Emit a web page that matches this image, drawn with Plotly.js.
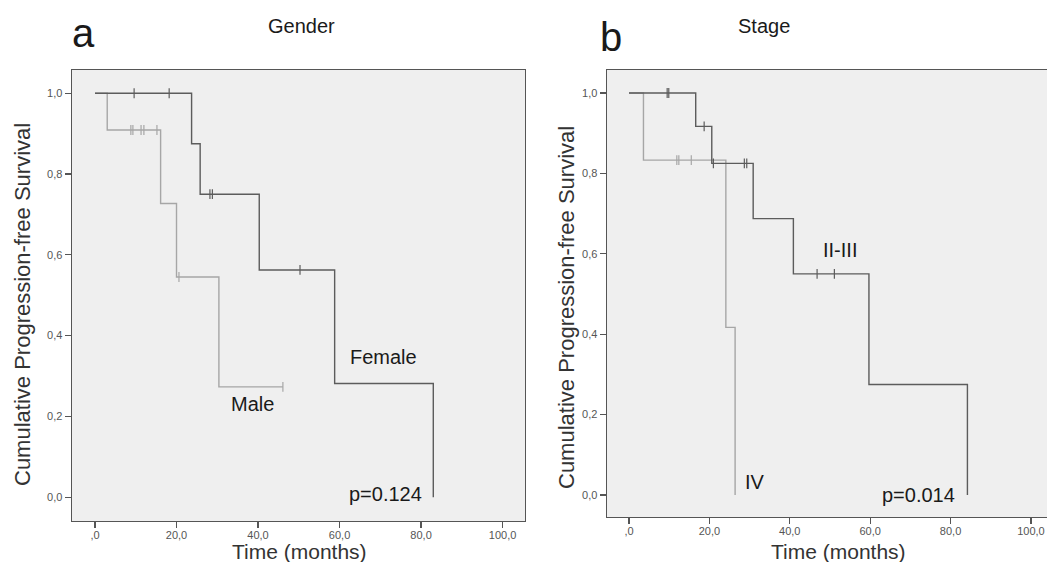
<!DOCTYPE html>
<html>
<head>
<meta charset="utf-8">
<script src="https://cdn.plot.ly/plotly-3.0.1.min.js"></script>
<style>
  html, body { margin: 0; padding: 0; background: #ffffff; }
  #chart { width: 1047px; height: 562px; }
</style>
</head>
<body>
<div id="chart"></div>
<script>
// ---- Data (Kaplan-Meier steps) ----
// Panel a: Gender
const femaleTimes = [0, 23.7, 25.8, 40.3, 58.8, 83.0];
const femaleSurv  = [1, 0.875, 0.75, 0.5625, 0.2813, 0];
const femaleCensored = [9.6, 18.2, 28.2, 28.8, 50.3];

const maleTimes = [0, 3.0, 16.1, 20.0, 30.4, 46.1];
const maleSurv  = [1, 0.909, 0.727, 0.545, 0.273, 0.273];
const maleCensored = [8.8, 9.3, 11.3, 12.0, 15.2, 20.6, 46.1];

// Panel b: Stage
const stage23Times = [0, 16.6, 20.6, 30.9, 40.9, 59.7, 84.2];
const stage23Surv  = [1, 0.917, 0.825, 0.6875, 0.55, 0.275, 0];
const stage23Censored = [9.5, 9.9, 18.7, 21.0, 28.7, 29.3, 46.8, 51.1];

const stage4Times = [0, 3.6, 24.1, 26.4];
const stage4Surv  = [1, 0.833, 0.417, 0];
const stage4Censored = [11.9, 12.4, 15.5];

const xTickVals = [0, 20, 40, 60, 80, 100];
const xTickText = [",0", "20,0", "40,0", "60,0", "80,0", "100,0"];
const yTickVals = [0, 0.2, 0.4, 0.6, 0.8, 1.0];
const yTickText = ["0,0", "0,2", "0,4", "0,6", "0,8", "1,0"];

// ---- helpers ----
function survAt(times, surv, t) {
  let s = surv[0];
  for (let i = 0; i < times.length; i++) { if (times[i] <= t) s = surv[i]; }
  return s;
}
const DARK = '#5c5c5c', LIGHT = '#a6a6a6';
function curve(times, surv, color, xa, ya) {
  return { x: times, y: surv, type: 'scatter', mode: 'lines', line: { shape: 'hv', color: color, width: 1.4 },
           xaxis: xa, yaxis: ya, hoverinfo: 'skip', showlegend: false };
}
function censors(times, surv, cens, color, xa, ya) {
  return { x: cens, y: cens.map(t => survAt(times, surv, t)), type: 'scatter', mode: 'markers',
           marker: { symbol: 'line-ns-open', size: 7, color: color, line: { color: color, width: 1.2 } },
           xaxis: xa, yaxis: ya, hoverinfo: 'skip', showlegend: false };
}

const W = 1047, H = 562;
const px = v => v / W, py = v => 1 - v / H;

const traces = [
  curve(maleTimes, maleSurv, LIGHT, 'x', 'y'),
  curve(femaleTimes, femaleSurv, DARK, 'x', 'y'),
  censors(maleTimes, maleSurv, maleCensored, LIGHT, 'x', 'y'),
  censors(femaleTimes, femaleSurv, femaleCensored, DARK, 'x', 'y'),
  curve(stage4Times, stage4Surv, LIGHT, 'x2', 'y2'),
  curve(stage23Times, stage23Surv, DARK, 'x2', 'y2'),
  censors(stage4Times, stage4Surv, stage4Censored, LIGHT, 'x2', 'y2'),
  censors(stage23Times, stage23Surv, stage23Censored, DARK, 'x2', 'y2')
];

const tickFont = { family: 'Liberation Sans, Arial, sans-serif', size: 11, color: '#555' };
function xAxis(domain, range, anchor, mirror) {
  return { domain: domain, range: range, anchor: anchor, tickvals: xTickVals, ticktext: xTickText,
           ticks: 'outside', ticklen: 6, tickwidth: 1.2, tickcolor: '#555', tickfont: tickFont,
           ticklabelstandoff: -3,
           showgrid: false, zeroline: false, showline: true, linecolor: '#555', linewidth: 1.4,
           mirror: mirror, fixedrange: true };
}
function yAxis(domain, range, anchor, mirror) {
  return { domain: domain, range: range, anchor: anchor, tickvals: yTickVals, ticktext: yTickText,
           ticks: 'outside', ticklen: 6, tickwidth: 1.2, tickcolor: '#555', tickfont: tickFont,
           showgrid: false, zeroline: false, showline: true, linecolor: '#555', linewidth: 1.4,
           mirror: mirror, fixedrange: true };
}

const F = 'Liberation Sans, Arial, sans-serif';
function ann(text, x, y, size, extra) {
  return Object.assign({ text: text, xref: 'paper', yref: 'paper', x: px(x), y: py(y), showarrow: false,
           xanchor: 'center', yanchor: 'middle', font: { family: F, size: size, color: '#1a1a1a' } }, extra || {});
}

const layout = {
  width: W, height: H,
  margin: { l: 0, r: 0, t: 0, b: 0 },
  paper_bgcolor: '#ffffff',
  plot_bgcolor: '#efefef',
  showlegend: false,
  xaxis: xAxis([px(72), px(525)], [-5.64, 105.5], 'y', true),
  yaxis: yAxis([py(521), py(70)], [-0.059, 1.0575], 'x', true),
  xaxis2: xAxis([px(607), 1], [-5.47, 104.0], 'y2', true),
  yaxis2: yAxis([py(517), py(70)], [-0.0547, 1.0572], 'x2', false),
  annotations: [
    ann('a', 83, 33, 40),
    ann('Gender', 301, 26, 20),
    ann('b', 611, 37, 40),
    ann('Stage', 764, 26, 20),
    ann('Cumulative Progression-free Survival', 22, 305, 22, { textangle: -90, font: { family: F, size: 22, color: '#333' } }),
    ann('Cumulative Progression-free Survival', 566, 308, 22, { textangle: -90, font: { family: F, size: 22, color: '#333' } }),
    ann('Time (months)', 299, 551, 21, { font: { family: F, size: 21, color: '#333' } }),
    ann('Time (months)', 838, 551, 21, { font: { family: F, size: 21, color: '#333' } }),
    ann('Female', 383, 357, 20),
    ann('Male', 252, 404, 20),
    ann('p=0.124', 385, 494, 20),
    ann('II-III', 840, 250, 20),
    ann('IV', 755, 482, 20),
    ann('p=0.014', 918, 495, 20)
  ]
};

Plotly.newPlot('chart', traces, layout, { displayModeBar: false, staticPlot: true });
</script>
</body>
</html>
